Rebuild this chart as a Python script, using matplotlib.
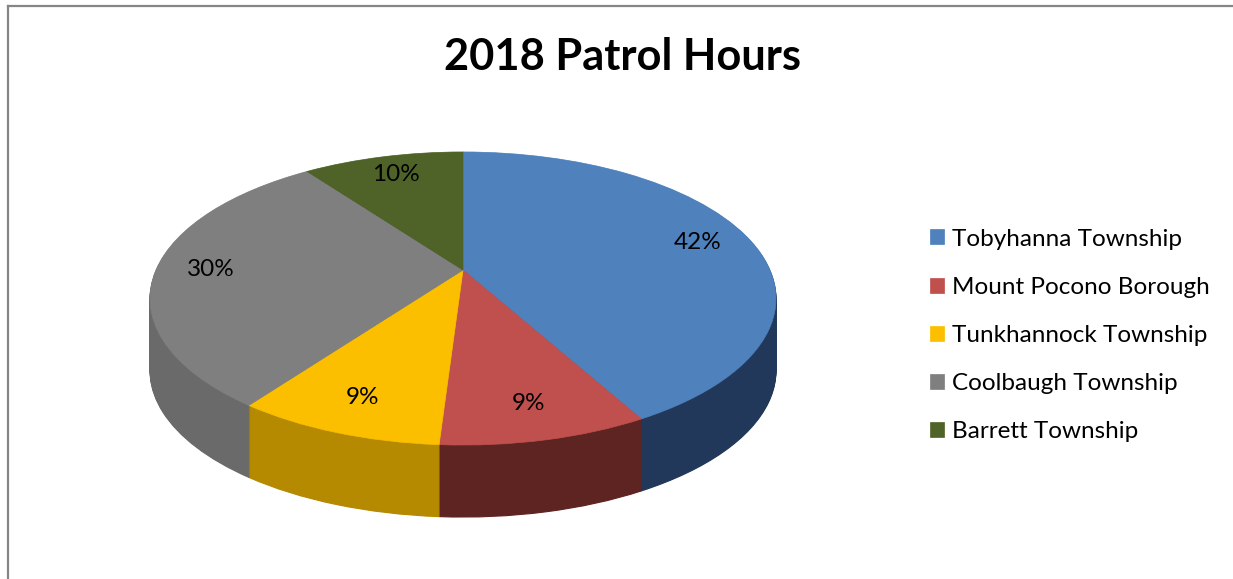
import matplotlib
matplotlib.use('Agg')
import numpy as np
import matplotlib.pyplot as plt
from matplotlib.lines import Line2D
from matplotlib.transforms import Transform

categories = ['Tobyhanna Township', 'Mount Pocono Borough', 'Tunkhannock Township',
              'Coolbaugh Township', 'Barrett Township']
values = [42, 9, 9, 30, 10]
top_colors = ['#4f81bd', '#c0504d', '#fbbf00', '#7f7f7f', '#4f6228']
side_colors = ['#22385a', '#5e2422', '#b58a00', '#6a6a6a', '#3a4a1e']
title = '2018 Patrol Hours'

W, H = 1233, 579


class Perspective(Transform):
    """Planar homography: views the flat unit pie as a tilted disk."""
    input_dims = output_dims = 2
    is_separable = False
    has_inverse = False

    def __init__(self, cx, cy, sx, sy, k):
        super().__init__()
        self.cx, self.cy, self.sx, self.sy, self.k = cx, cy, sx, sy, k

    def transform_non_affine(self, values):
        values = np.asarray(values, dtype=float)
        u = values[..., 0]
        v = values[..., 1]
        w = 1.0 + self.k * v
        return np.stack([self.cx + self.sx * u / w, self.cy + self.sy * v / w], axis=-1)


plt.rcParams['font.family'] = ['Lato', 'DejaVu Sans']
fig = plt.figure(figsize=(W / 100, H / 100), dpi=100)
ax = fig.add_axes([0, 0, 1, 1])

# view geometry (pixels)
cx, cy, sx, sy, k = 463, H - 270, 307, 141, 0.1945
depth = 72
nsteps = 72

for i in range(nsteps, 0, -1):
    dy = depth * i / nsteps
    tr = Perspective(cx, cy - dy, sx, sy, k) + ax.transData
    sw, _ = ax.pie(values, colors=side_colors, startangle=90, counterclock=False,
                   center=(0, 0), radius=1, wedgeprops=dict(linewidth=0.8))
    for w in sw:
        w.set_edgecolor(w.get_facecolor())
        w.set_transform(tr)

top_tr = Perspective(cx, cy, sx, sy, k) + ax.transData
wedges, texts, autotexts = ax.pie(
    values, colors=top_colors, startangle=90, counterclock=False,
    center=(0, 0), radius=1, autopct=lambda p: f'{p:.0f}%', pctdistance=0.82,
    wedgeprops=dict(linewidth=0.5),
    textprops=dict(fontsize=17.5, color='#000000'))
for w in wedges:
    w.set_edgecolor(w.get_facecolor())
    w.set_transform(top_tr)
for t in list(texts) + list(autotexts):
    t.set_transform(top_tr)

ax.set_aspect('auto')
ax.set_xlim(0, W)
ax.set_ylim(0, H)
ax.axis('off')

fig.text(622 / W, 1 - 57 / H, title, ha='center', va='center',
         fontsize=31.2, fontweight='bold', color='#000000')

fig.legend(wedges, categories, loc='upper left', bbox_to_anchor=(930 / W, 1 - 228.5 / H),
           frameon=False, fontsize=17.5, handlelength=0.57, handleheight=0.57,
           handletextpad=0.35, labelspacing=1.12, borderaxespad=0, borderpad=0)

fig.add_artist(Line2D([7.5 / W, 7.5 / W], [0, 1 - 5.5 / H], color='#868686', lw=1.6,
                      transform=fig.transFigure))
fig.add_artist(Line2D([7.5 / W, 1], [1 - 5.5 / H, 1 - 5.5 / H], color='#868686', lw=1.6,
                      transform=fig.transFigure))

fig.savefig('out.png', dpi=100)
